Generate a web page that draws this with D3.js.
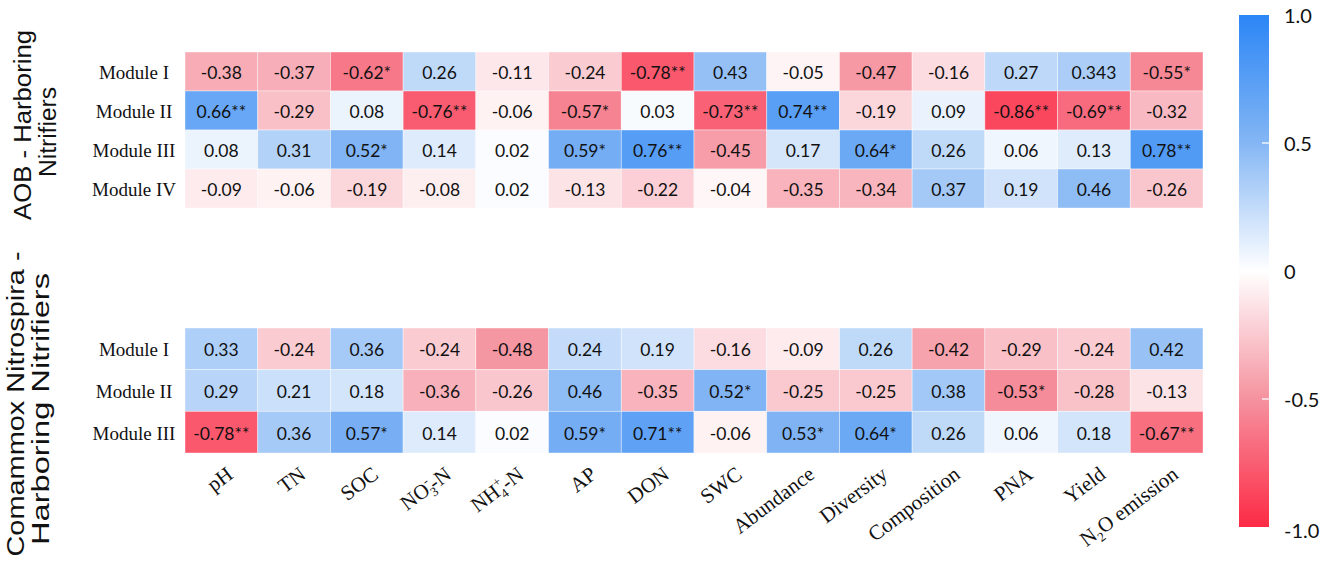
<!DOCTYPE html>
<html>
<head>
<meta charset="utf-8">
<script src="https://d3js.org/d3.v7.min.js"></script>
<style>
  html, body { margin: 0; padding: 0; background: #fff; }
  svg { display: block; }
</style>
</head>
<body>
<div id="chart"></div>
<script>
// Column (x) labels, with _{} = subscript, ^{} = superscript
const columns = ["pH", "TN", "SOC", "NO_{3}^{-}-N", "NH_{4}^{+}-N", "AP", "DON", "SWC",
  "Abundance", "Diversity", "Composition", "PNA", "Yield", "N_{2}O emission"];

// AOB - harboring nitrifiers
const aobModules = ["Module I", "Module II", "Module III", "Module IV"];
const aobValues = [
  [-0.38, -0.37, -0.62, 0.26, -0.11, -0.24, -0.78, 0.43, -0.05, -0.47, -0.16, 0.27, 0.343, -0.55],
  [0.66, -0.29, 0.08, -0.76, -0.06, -0.57, 0.03, -0.73, 0.74, -0.19, 0.09, -0.86, -0.69, -0.32],
  [0.08, 0.31, 0.52, 0.14, 0.02, 0.59, 0.76, -0.45, 0.17, 0.64, 0.26, 0.06, 0.13, 0.78],
  [-0.09, -0.06, -0.19, -0.08, 0.02, -0.13, -0.22, -0.04, -0.35, -0.34, 0.37, 0.19, 0.46, -0.26]
];
const aobStars = [
  ["", "", "*", "", "", "", "**", "", "", "", "", "", "", "*"],
  ["**", "", "", "**", "", "*", "", "**", "**", "", "", "**", "**", ""],
  ["", "", "*", "", "", "*", "**", "", "", "*", "", "", "", "**"],
  ["", "", "", "", "", "", "", "", "", "", "", "", "", ""]
];

// Comammox Nitrospira - harboring nitrifiers
const comModules = ["Module I", "Module II", "Module III"];
const comValues = [
  [0.33, -0.24, 0.36, -0.24, -0.48, 0.24, 0.19, -0.16, -0.09, 0.26, -0.42, -0.29, -0.24, 0.42],
  [0.29, 0.21, 0.18, -0.36, -0.26, 0.46, -0.35, 0.52, -0.25, -0.25, 0.38, -0.53, -0.28, -0.13],
  [-0.78, 0.36, 0.57, 0.14, 0.02, 0.59, 0.71, -0.06, 0.53, 0.64, 0.26, 0.06, 0.18, -0.67]
];
const comStars = [
  ["", "", "", "", "", "", "", "", "", "", "", "", "", ""],
  ["", "", "", "", "", "", "", "*", "", "", "", "*", "", ""],
  ["**", "", "*", "", "", "*", "**", "", "*", "*", "", "", "", "**"]
];

const colorbarTicks = [1, 0.5, 0, -0.5, -1];
const colorbarTickLabels = ["1.0", "0.5", "0", "-0.5", "-1.0"];

const width = 1325, height = 569;

const svg = d3.select("#chart")
  .append("svg")
  .attr("width", width)
  .attr("height", height);

// diverging red - white - blue
const color = d3.scaleLinear()
  .domain([-1, -0.5, 0, 0.5, 1])
  .range(["#fd2a45", "#f5929f", "#ffffff", "#84b6f4", "#2b86f6"]);

const x = d3.scaleBand()
  .domain(columns)
  .range([185, 1203]);

function drawBlock(modules, values, stars, y0, y1) {
  const y = d3.scaleBand().domain(modules).range([y0, y1]);
  const cells = [];
  modules.forEach((m, i) => {
    columns.forEach((c, j) => {
      cells.push({ m: m, c: c, v: values[i][j], s: stars[i][j] });
    });
  });

  const g = svg.append("g");
  g.selectAll("rect")
    .data(cells)
    .enter().append("rect")
    .attr("x", d => x(d.c))
    .attr("y", d => y(d.m))
    .attr("width", x.bandwidth())
    .attr("height", y.bandwidth())
    .attr("fill", d => color(d.v))
    .attr("stroke", "#ffffff")
    .attr("stroke-opacity", 0.5)
    .attr("stroke-width", 0.8);

  g.selectAll("text.val")
    .data(cells)
    .enter().append("text")
    .attr("class", "val")
    .attr("x", d => x(d.c) + x.bandwidth() / 2)
    .attr("y", d => y(d.m) + y.bandwidth() / 2 + 1)
    .attr("text-anchor", "middle")
    .attr("dominant-baseline", "central")
    .style("font-family", "Lato, 'Open Sans', sans-serif")
    .style("font-size", "17.5px")
    .style("fill", "#111")
    .text(d => String(d.v) + d.s);

  // row labels
  g.selectAll("text.row")
    .data(modules)
    .enter().append("text")
    .attr("class", "row")
    .attr("x", 134)
    .attr("y", d => y(d) + y.bandwidth() / 2 + 1)
    .attr("text-anchor", "middle")
    .attr("dominant-baseline", "central")
    .style("font-family", "'Liberation Serif', 'Times New Roman', serif")
    .style("font-size", "19px")
    .style("fill", "#111")
    .text(d => d);
}

drawBlock(aobModules, aobValues, aobStars, 52, 208);
drawBlock(comModules, comValues, comStars, 328, 453);

// rotated x labels with sub/superscripts
function addRich(textSel, label) {
  const parts = label.split(/(_\{[^}]*\}|\^\{[^}]*\})/).filter(p => p !== "");
  let shift = 0;
  let prevSub = false;
  parts.forEach(p => {
    if (p.startsWith("_{")) {
      textSel.append("tspan")
        .attr("dy", 5 - shift)
        .style("font-size", "13px")
        .text(p.slice(2, -1));
      shift = 5;
      prevSub = true;
    } else if (p.startsWith("^{")) {
      const t = textSel.append("tspan")
        .attr("dy", -9 - shift)
        .style("font-size", "13px")
        .text(p.slice(2, -1));
      if (prevSub) t.attr("dx", -6.5);
      shift = -9;
      prevSub = false;
    } else {
      textSel.append("tspan")
        .attr("dy", -shift)
        .text(p);
      shift = 0;
      prevSub = false;
    }
  });
}

const xl = svg.append("g");
columns.forEach(c => {
  const px = x(c) + x.bandwidth() / 2 + 13;
  const t = xl.append("text")
    .attr("transform", `translate(${px},477) rotate(-37)`)
    .attr("text-anchor", "end")
    .style("font-family", "'Liberation Serif', 'Times New Roman', serif")
    .style("font-size", "21px")
    .style("fill", "#111");
  addRich(t, c);
});

// group labels on the left
function groupLabel(lines, baselines, centers, size, lengths) {
  lines.forEach((line, i) => {
    const t = svg.append("text")
      .attr("transform", `translate(${baselines[i]},${centers[i]}) rotate(-90)`)
      .attr("text-anchor", "middle")
      .style("font-family", "'Liberation Sans', Arial, sans-serif")
      .style("font-size", size + "px")
      .style("fill", "#111")
      .text(line);
    if (lengths) {
      t.attr("textLength", lengths[i]).attr("lengthAdjust", "spacingAndGlyphs");
    }
  });
}
groupLabel(["AOB - Harboring", "Nitrifiers"], [31, 56], [125, 132], 23.5, [190, 90]);
groupLabel(["Comammox Nitrospira -", "Harboring Nitrifiers"], [24, 49], [404, 409], 23.5, [305, 272]);

// colorbar
const cbY = d3.scaleLinear().domain([-1, 1]).range([527, 15]);
const defs = svg.append("defs");
const grad = defs.append("linearGradient")
  .attr("id", "cbgrad")
  .attr("x1", 0).attr("y1", 1).attr("x2", 0).attr("y2", 0);
d3.range(-1, 1.0001, 0.1).forEach(v => {
  grad.append("stop")
    .attr("offset", (v + 1) / 2)
    .attr("stop-color", color(v));
});
svg.append("rect")
  .attr("x", 1239)
  .attr("y", cbY(1))
  .attr("width", 30)
  .attr("height", cbY(-1) - cbY(1))
  .attr("fill", "url(#cbgrad)");

svg.selectAll("line.cbtick")
  .data([0.5, 0, -0.5])
  .enter().append("line")
  .attr("class", "cbtick")
  .attr("x1", 1262).attr("x2", 1269)
  .attr("y1", d => cbY(d)).attr("y2", d => cbY(d))
  .attr("stroke", "#ffffff")
  .attr("stroke-opacity", 0.85)
  .attr("stroke-width", 1.5);

svg.selectAll("text.cblab")
  .data(colorbarTicks)
  .enter().append("text")
  .attr("class", "cblab")
  .attr("x", 1284)
  .attr("y", (d, i) => cbY(d) + (d === -1 ? 3 : 0))
  .attr("dominant-baseline", "central")
  .style("font-family", "Lato, 'Open Sans', sans-serif")
  .style("font-size", "20px")
  .style("fill", "#111")
  .text((d, i) => colorbarTickLabels[i]);
</script>
</body>
</html>
